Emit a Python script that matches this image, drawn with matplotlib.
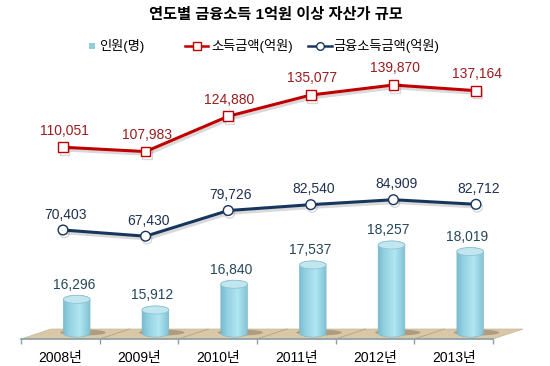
import numpy as np
import matplotlib
matplotlib.use("Agg")
from matplotlib import pyplot as plt
from matplotlib.patches import Polygon, Ellipse, Rectangle
from matplotlib.lines import Line2D
import matplotlib.patheffects as pe
from matplotlib.colors import to_rgb

plt.rcParams['font.family'] = ['Liberation Sans', 'Noto Sans CJK KR']

# data
years = ['2008년', '2009년', '2010년', '2011년', '2012년', '2013년']
people = [16296, 15912, 16840, 17537, 18257, 18019]          # 인원(명)
income = [110051, 107983, 124880, 135077, 139870, 137164]     # 소득금액(억원)
fin_income = [70403, 67430, 79726, 82540, 84909, 82712]       # 금융소득금액(억원)

title = '연도별 금융소득 1억원 이상 자산가 규모'
leg_names = ['인원(명)', '소득금액(억원)', '금융소득금액(억원)']

RED = '#c00000'
NAVY = '#17365d'
BAR = '#93cddd'

W, H = 550, 366
fig = plt.figure(figsize=(W / 100, H / 100), dpi=100)

# floor / category axis
ax_floor = fig.add_axes([21 / W, (H - 339) / H, (493 - 21) / W, 10 / H])
n = len(years)
ax_floor.set_xlim(0, n)
ax_floor.set_ylim(0, 1)
ax_floor.patch.set_visible(False)
dx = 30 / 78.7
ax_floor.add_patch(Polygon([(0, 0), (n, 0), (n + dx, 1), (dx, 1)], closed=True,
                           facecolor='#d9c8a8', edgecolor='#c9b898', lw=0.5, clip_on=False))
for k in range(1, n):
    ax_floor.plot([k, k + dx], [0, 1], color='#b5a282', lw=0.6, clip_on=False)
for s in ['top', 'left', 'right']:
    ax_floor.spines[s].set_visible(False)
ax_floor.spines['bottom'].set_color('#8aa0aa')
ax_floor.spines['bottom'].set_linewidth(1.2)
ax_floor.set_yticks([])
ax_floor.set_xticks(range(n + 1))
ax_floor.set_xticklabels([])
ax_floor.tick_params(axis='x', which='major', length=3.5, color='#8aa0aa', width=1)
ax_floor.set_xticks(np.arange(n) + 0.5, minor=True)
ax_floor.set_xticklabels(years, minor=True, fontsize=10)
ax_floor.tick_params(axis='x', which='minor', length=0, pad=8.5)

# cylinders
ax_bar = fig.add_axes([0, 0, 1, 1], zorder=1)
ax_bar.patch.set_visible(False)
ax_bar.axis('off')
base = 15080
r = 0.17
h = 145

stops = [0.0, 0.25, 0.62, 1.0]
cols = [to_rgb('#78bcd0'), to_rgb('#95d2e3'), to_rgb('#b2e6f2'), to_rgb('#80c2d4')]
xs = np.linspace(0, 1, 64)
grad = np.stack([np.interp(xs, stops, [c[j] for c in cols]) for j in range(3)], axis=-1)[None, :, :]

for i, v in enumerate(people):
    ax_bar.add_patch(Ellipse((i + 0.08, base + 20), 2 * r * 1.7, h * 1.5,
                             facecolor='#5a4a38', alpha=0.35, edgecolor='none', zorder=1))
    t1 = np.linspace(np.pi, 2 * np.pi, 40)
    t2 = np.linspace(0, np.pi, 40)
    vx = np.r_[i + r * np.cos(t1), i + r * np.cos(t2)]
    vy = np.r_[base + h * np.sin(t1), v + h * np.sin(t2)]
    body = Polygon(np.column_stack([vx, vy]), closed=True, facecolor='none',
                   edgecolor='#7fb8c8', lw=0.4, zorder=3)
    ax_bar.add_patch(body)
    im = ax_bar.imshow(grad, extent=[i - r, i + r, base - h, v + h], aspect='auto',
                       zorder=2, interpolation='bilinear')
    im.set_clip_path(body)
    ax_bar.add_patch(Ellipse((i, v), 2 * r, 2 * h, facecolor='#c2e6ef',
                             edgecolor='#8ec4d2', lw=0.6, zorder=4))
    ax_bar.annotate(f'{v:,}', (i, v), xytext=(-2, 10.5), textcoords='offset points',
                    ha='center', va='center', fontsize=10, color='#26475a', zorder=5)
ax_bar.set_xlim(-76.7 / 78.7, (W - 76.7) / 78.7)
ax_bar.set_ylim(13892, 27095)

# lines
ax_line = fig.add_axes([0, 0, 1, 1], zorder=2)
ax_line.patch.set_visible(False)
ax_line.axis('off')
x = np.arange(n)
shadow = [pe.SimpleLineShadow(offset=(1.0, -2.0), shadow_color='k', alpha=0.15), pe.Normal()]
ax_line.plot(x, income, color=RED, lw=2.2, marker='s', ms=7, mfc='white', mec=RED,
             mew=1.0, path_effects=shadow)
ax_line.plot(x, fin_income, color=NAVY, lw=2.2, marker='o', ms=7, mfc='white', mec=NAVY,
             mew=1.0, path_effects=shadow)
for i in range(n):
    ax_line.annotate(f'{income[i]:,}', (x[i], income[i]), xytext=(1, 12),
                     textcoords='offset points', ha='center', va='center',
                     fontsize=10, color='#9b1c1c')
    ax_line.annotate(f'{fin_income[i]:,}', (x[i], fin_income[i]), xytext=(2, 11),
                     textcoords='offset points', ha='center', va='center',
                     fontsize=10, color='#1f3050')
ax_line.set_xlim(-63 / 82.6, (W - 63) / 82.6)
ax_line.set_ylim(5238, 180609)

# title and legend (pixel overlay)
ax_top = fig.add_axes([0, 0, 1, 1], zorder=3)
ax_top.patch.set_visible(False)
ax_top.axis('off')
ax_top.set_xlim(0, W)
ax_top.set_ylim(H, 0)
ax_top.text(276, 15, title, ha='center', va='center', fontsize=11, fontweight='bold',
            color='black')
ax_top.add_patch(Rectangle((89, 43), 6, 6, facecolor=BAR, edgecolor='none'))
ax_top.text(99, 46, leg_names[0], ha='left', va='center', fontsize=9.5)
ax_top.add_line(Line2D([185, 208], [46, 46], color=RED, lw=1.8))
ax_top.add_line(Line2D([196.5], [46], marker='s', ms=5.5, mfc='white', mec=RED, mew=1))
ax_top.text(211, 46, leg_names[1], ha='left', va='center', fontsize=9.5)
ax_top.add_line(Line2D([308, 332], [46, 46], color=NAVY, lw=1.8))
ax_top.add_line(Line2D([320], [46], marker='o', ms=5.5, mfc='white', mec=NAVY, mew=1))
ax_top.text(333, 46, leg_names[2], ha='left', va='center', fontsize=9.5)

fig.savefig('out.png', dpi=100)
